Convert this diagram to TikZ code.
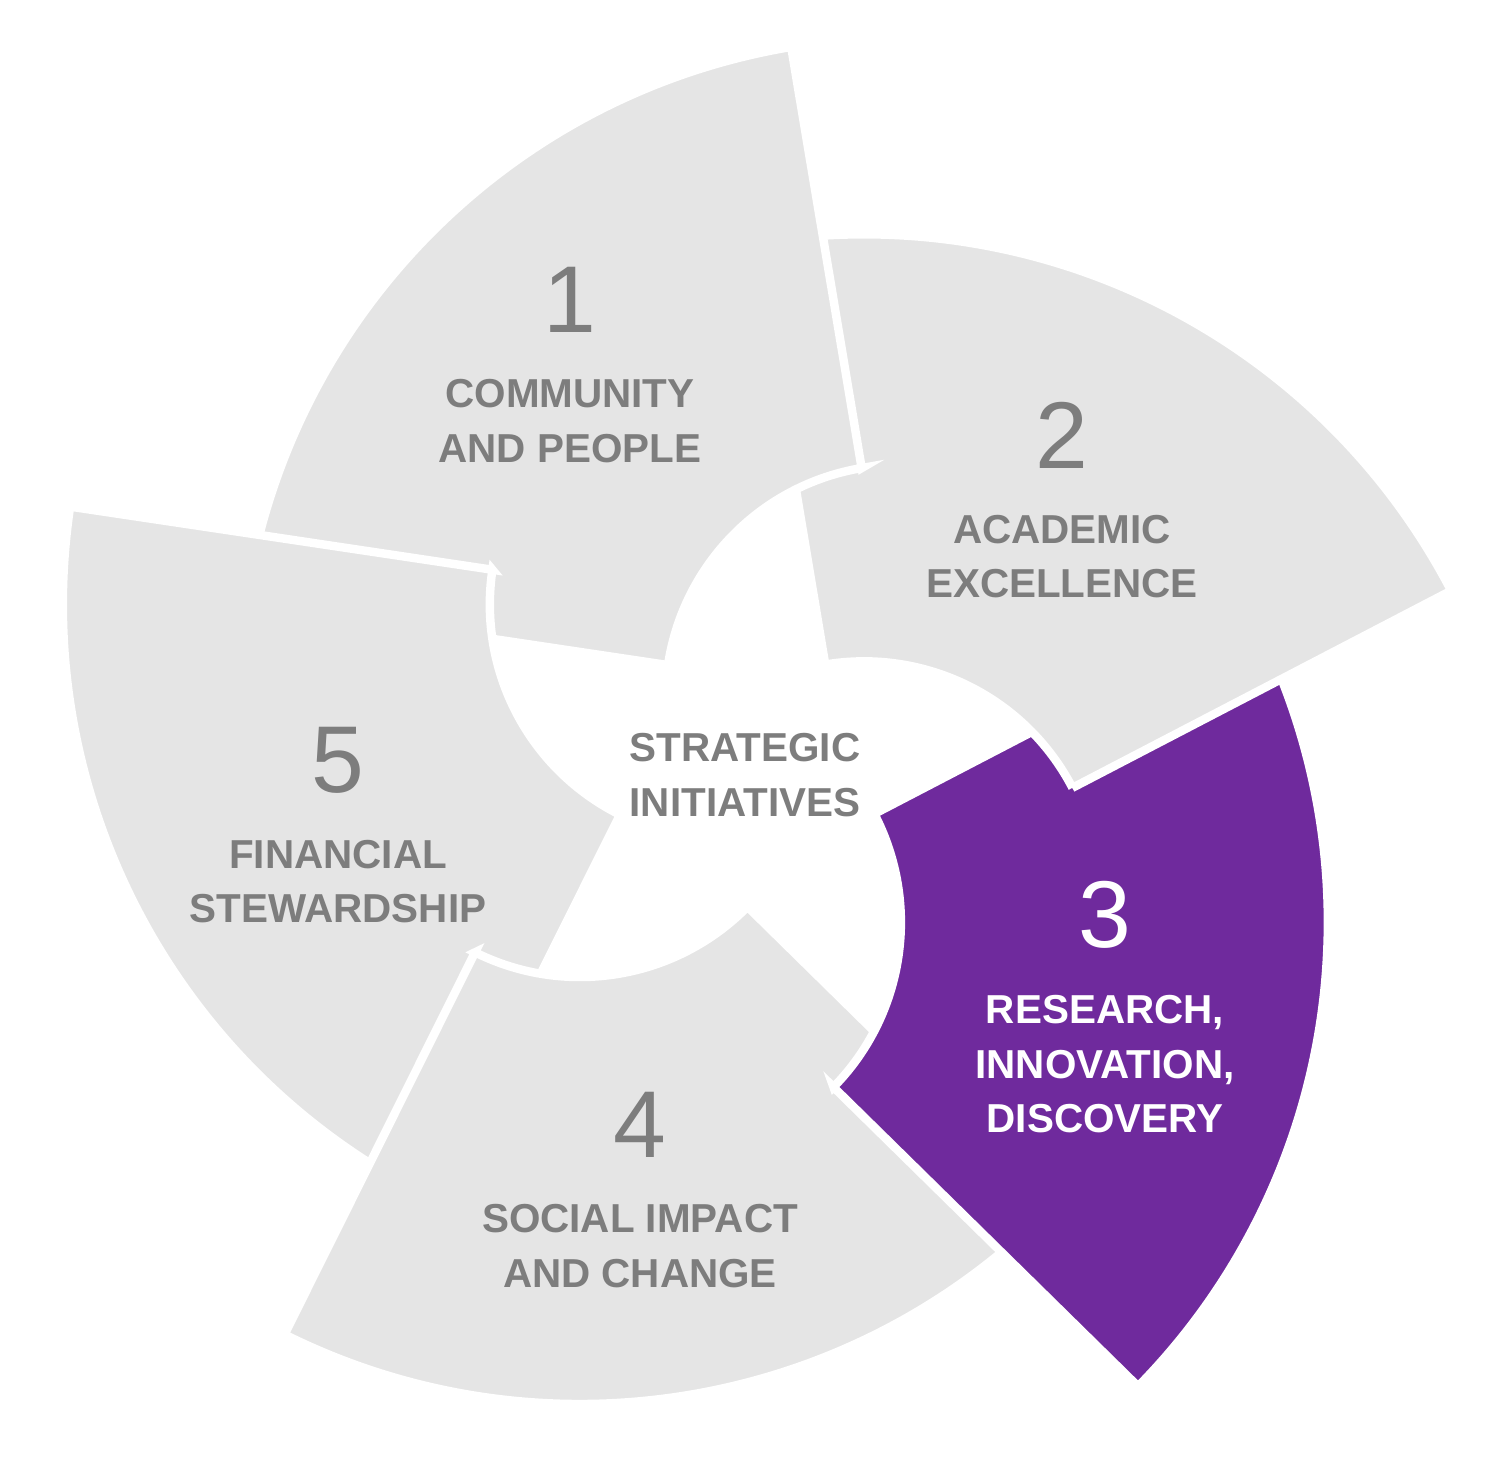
\documentclass[tikz,border=0pt]{standalone}
\usepackage{fontspec}
\setmainfont{Liberation Sans}
\usetikzlibrary{calc,positioning}
\definecolor{petal}{RGB}{229,229,229}
\definecolor{accent}{RGB}{111,42,157}
\definecolor{ink}{RGB}{125,125,125}

% one petal: #1 = direction of its own centre from C, #2 = fill
\newcommand\petal[2]{%
\path[fill=#2, draw=white, line width=2.4pt, line join=miter]
  ($(C)+(#1:1.7)+(#1+74:2.35)$) -- ($(C)+(#1:1.7)+(#1+74:6.62)$)
  arc[start angle=#1+74, end angle=#1+146, radius=6.62]
  -- ($(C)+(#1:1.7)+(#1+146:2.35)$)
  arc[start angle=#1+146, end angle=#1+74, radius=2.35] -- cycle;}

\begin{document}
\begin{tikzpicture}[%
num/.style={font=\fontsize{27}{27}\selectfont, text=ink},
lbl/.style={font=\fontsize{11.5}{15.5}\selectfont\bfseries, text=ink, align=center},
node distance=0.22cm
]
\useasboundingbox (0,0) rectangle (15.01,-14.57);
\coordinate (C) at (7.47,-7.73);

% petals, each one over the next
\petal{97.5}{petal}
\petal{169.5}{petal}
\petal{-118.5}{accent}
\petal{-46.5}{petal}
\petal{25.5}{petal}
\begin{scope}
\clip (0,-4.5) rectangle (7,-7);
\petal{97.5}{petal}
\end{scope}

% texts
\node[lbl] (mid) at (7.45,-7.75) {STRATEGIC\\INITIATIVES};

\node[num] (n1) at (5.70,-3.00) {1};
\node[lbl, below=of n1] (t1) {COMMUNITY\\AND PEOPLE};
\node[num] (n2) at (10.62,-4.35) {2};
\node[lbl, below=of n2] (t2) {ACADEMIC\\EXCELLENCE};
\node[num, text=white] (n3) at (11.05,-9.15) {3};
\node[lbl, text=white, below=of n3] (t3) {RESEARCH,\\INNOVATION,\\DISCOVERY};
\node[num] (n4) at (6.40,-11.25) {4};
\node[lbl, below=of n4] (t4) {SOCIAL IMPACT\\AND CHANGE};
\node[num] (n5) at (3.38,-7.60) {5};
\node[lbl, below=of n5] (t5) {FINANCIAL\\STEWARDSHIP};
\end{tikzpicture}
\end{document}
